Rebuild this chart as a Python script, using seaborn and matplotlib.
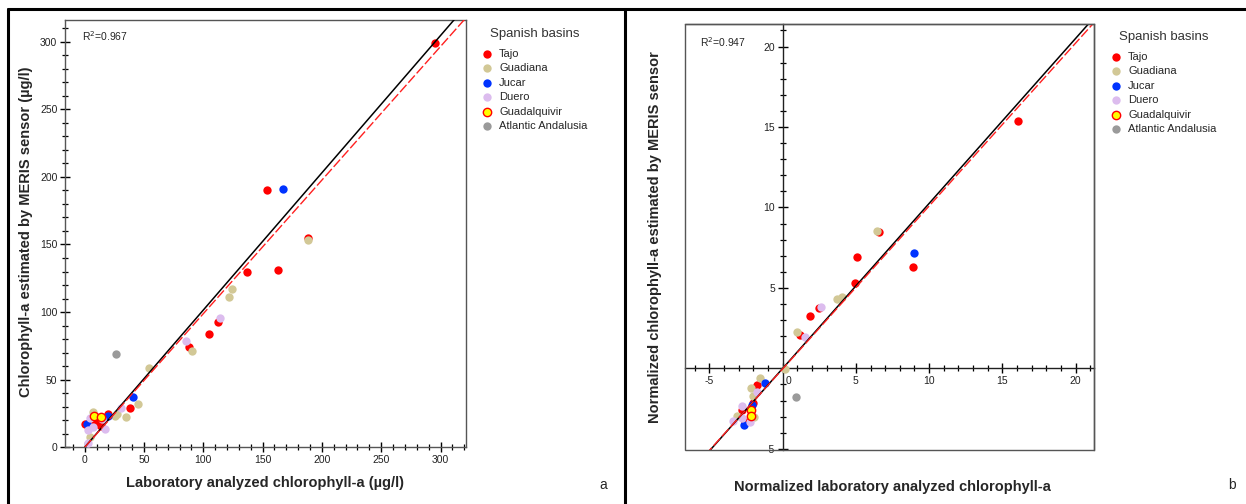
import numpy as np
import pandas as pd
import matplotlib
matplotlib.use("Agg")
import matplotlib.pyplot as plt
import matplotlib.transforms as mtransforms
from matplotlib.lines import Line2D
from matplotlib.ticker import MultipleLocator
from matplotlib import font_manager
import seaborn as sns

sns.set_style("white")

# pick a narrow sans if one is there, the labels in the original are condensed
names = {f.name for f in font_manager.fontManager.ttflist}
NARROW = next((n for n in ["Liberation Sans Narrow", "DejaVu Sans Condensed"] if n in names),
              "Liberation Sans")
plt.rcParams["font.family"] = ["Liberation Sans", "DejaVu Sans"]
plt.rcParams["axes.unicode_minus"] = False

basins = ["Tajo", "Guadiana", "Jucar", "Duero", "Guadalquivir", "Atlantic Andalusia"]
face = {"Tajo": "#ff0000", "Guadiana": "#d2c896", "Jucar": "#0033ff",
        "Duero": "#dcbcee", "Guadalquivir": "#ffff00", "Atlantic Andalusia": "#9a9a9a"}
edge = {"Guadalquivir": "#ff0000"}

# panel a - absolute values (ug/l)
tajo_a_x = [295, 153.5, 188, 163.2, 137, 105, 112.4, 88, 38.2, 20, 0.3, 8.7, 11, 13.5, 10]
tajo_a_y = [299, 190, 155, 131.4, 129.6, 83.6, 92.4, 74.4, 28.8, 24.6, 17, 18.7, 17, 16, 18]
guadiana_a_x = [188.5, 124.2, 122, 90.2, 54.5, 45.2, 34.6, 27, 25.5, 7.3, 4.5]
guadiana_a_y = [153.3, 116.8, 111, 71.5, 58.4, 32, 22.4, 24.4, 23.4, 26.3, 7.8]
jucar_a_x = [167.5, 40.4, 19.4, 1.7]
jucar_a_y = [191.3, 37.2, 23.4, 17.2]
duero_a_x = [85.4, 114, 30.3, 4.5, 3, 17, 14.3, 2.5, 7.3]
duero_a_y = [78.6, 95.4, 28.8, 21.4, 12.8, 13.3, 21, 3.4, 15.2]
guadalquivir_a_x = [7.6, 14]
guadalquivir_a_y = [23, 22.6]
atlantic_a_x = [26.4]
atlantic_a_y = [68.8]

# panel b - normalized values
tajo_b_x = [16.07, 5.05, 4.92, 8.88, 1.86, 2.46, 1.18, 6.6, -1.78, -2.0, -2.55, -2.8]
tajo_b_y = [15.37, 6.93, 5.28, 6.31, 3.25, 3.73, 2.1, 8.5, -1.04, -2.17, -3.35, -2.59]
guadiana_b_x = [6.46, 0.96, 3.69, 4.03, 0.16, -1.55, -2.17, -2.0, -1.94, -3.14]
guadiana_b_y = [8.55, 2.27, 4.3, 4.45, -0.06, -0.62, -1.24, -1.7, -3.0, -2.96]
jucar_b_x = [8.97, -1.21, -2.12, -2.62]
jucar_b_y = [7.18, -0.89, -2.28, -3.5]
duero_b_x = [2.62, 1.52, -2.8, -3.37, -2.8, -2.23, -1.78]
duero_b_y = [3.83, 1.96, -2.34, -3.25, -3.1, -3.31, -1.45]
guadalquivir_b_x = [-2.19, -2.19]
guadalquivir_b_y = [-2.59, -2.96]
atlantic_b_x = [0.91]
atlantic_b_y = [-1.76]

# fitted lines: (slope, intercept) for black solid and red dashed
fit_a = [(1.015, 0.0), (0.988, 0.0)]
fit_b = [(1.025, 0.0), (1.012, -0.03)]
r2_a = "0.967"
r2_b = "0.947"


def to_frame(parts):
    rows = []
    for name, (xs, ys) in zip(basins, parts):
        rows += [{"basin": name, "x": x, "y": y} for x, y in zip(xs, ys)]
    return pd.DataFrame(rows)


df_a = to_frame([(tajo_a_x, tajo_a_y), (guadiana_a_x, guadiana_a_y), (jucar_a_x, jucar_a_y),
                 (duero_a_x, duero_a_y), (guadalquivir_a_x, guadalquivir_a_y),
                 (atlantic_a_x, atlantic_a_y)])
df_b = to_frame([(tajo_b_x, tajo_b_y), (guadiana_b_x, guadiana_b_y), (jucar_b_x, jucar_b_y),
                 (duero_b_x, duero_b_y), (guadalquivir_b_x, guadalquivir_b_y),
                 (atlantic_b_x, atlantic_b_y)])

W, H = 1246, 504
fig = plt.figure(figsize=(W / 100, H / 100), dpi=100)


def px_axes(x0, y0, x1, y1):
    return fig.add_axes([x0 / W, 1 - y1 / H, (x1 - x0) / W, (y1 - y0) / H])


ax_a = px_axes(65, 20, 466, 447.3)
ax_b = px_axes(685, 24, 1094, 450)


def scatter(ax, df):
    for b in basins:
        sub = df[df.basin == b]
        sns.scatterplot(data=sub, x="x", y="y", ax=ax, color=face[b],
                        edgecolor=edge.get(b, face[b]), linewidth=1.0 if b in edge else 0,
                        s=36, label=b, zorder=3 if b != "Guadalquivir" else 4)


def fits(ax, coefs, x0, x1):
    xx = np.array([x0, x1])
    (s1, c1), (s2, c2) = coefs
    ax.plot(xx, s1 * xx + c1, color="black", lw=1.1, zorder=5)
    ax.plot(xx, s2 * xx + c2, color="#ff2020", lw=1.0, dashes=(7, 2), zorder=5)


def style_ticks(ax):
    ax.tick_params(which="both", bottom=True, left=True, top=False, right=False)
    ax.tick_params(which="major", direction="inout", length=7, width=1.0, color="black",
                   labelsize=7.5, pad=2, labelcolor="#222222")
    ax.tick_params(which="minor", direction="inout", length=4, width=0.9, color="black")
    for sp in ax.spines.values():
        sp.set_color("#555555")
        sp.set_linewidth(1.0)


def legend(ax, x, y):
    leg = ax.legend(loc="upper left", bbox_to_anchor=(x / W, 1 - y / H),
                    bbox_transform=fig.transFigure, frameon=False, title="Spanish basins",
                    prop={"family": NARROW, "size": 8}, handletextpad=0.6,
                    labelspacing=0.4, handlelength=1.0, borderaxespad=0, markerscale=1.0)
    leg.get_title().set_fontfamily(NARROW)
    leg.get_title().set_fontsize(9.5)
    leg.get_title().set_color("#333333")
    leg._legend_box.sep = 6


# ---- panel a
scatter(ax_a, df_a)
fits(ax_a, fit_a, 0, 330)
ax_a.set_xlim(-16.6, 321.5)
ax_a.set_ylim(0, 316)
ax_a.xaxis.set_major_locator(MultipleLocator(50))
ax_a.xaxis.set_minor_locator(MultipleLocator(10))
ax_a.yaxis.set_major_locator(MultipleLocator(50))
ax_a.yaxis.set_minor_locator(MultipleLocator(10))
style_ticks(ax_a)
ax_a.set_xlabel("Laboratory analyzed chlorophyll-a (µg/l)", fontsize=10.5,
                fontweight="bold", family=NARROW)
ax_a.set_ylabel("Chlorophyll-a estimated by MERIS sensor (µg/l)", fontsize=10.5,
                fontweight="bold", family=NARROW)
ax_a.xaxis.set_label_coords(0.5, -0.066)
ax_a.yaxis.set_label_coords(-0.08, 0.504)
ax_a.text(17 / 401, 1 - 16 / 427.3, "R$^2$=" + r2_a, transform=ax_a.transAxes,
          fontsize=7.5, va="center", ha="left")
legend(ax_a, 477, 24)

# ---- panel b
scatter(ax_b, df_b)
fits(ax_b, fit_b, -7, 22)
ax_b.set_xlim(-6.67, 21.26)
ax_b.set_ylim(-5.07, 21.4)
ax_b.set_xticks([-5, 0, 5, 10, 15, 20])
ax_b.set_yticks([-5, 5, 10, 15, 20])
ax_b.xaxis.set_minor_locator(MultipleLocator(1))
ax_b.yaxis.set_minor_locator(MultipleLocator(1))
ax_b.spines["left"].set_position(("data", 0))
ax_b.spines["bottom"].set_position(("data", 0))
style_ticks(ax_b)
ax_b.spines["left"].set_color("#202020")
ax_b.spines["bottom"].set_color("#202020")
ax_b.add_patch(plt.Rectangle((0, 0), 1, 1, transform=ax_b.transAxes, fill=False,
                             edgecolor="#555555", lw=1.0, zorder=6, clip_on=False))
# the zero label sits a little right of the axis
lbl0 = ax_b.get_xticklabels()[1]
lbl0.set_transform(lbl0.get_transform() +
                   mtransforms.ScaledTranslation(6 / 100, 0, fig.dpi_scale_trans))
ax_b.set_xlabel("Normalized laboratory analyzed chlorophyll-a", fontsize=10.5,
                fontweight="bold", family=NARROW)
ax_b.set_ylabel("Normalized chlorophyll-a estimated by MERIS sensor", fontsize=10.5,
                fontweight="bold", family=NARROW)
ax_b.xaxis.set_label_coords(0.506, -0.07)
ax_b.yaxis.set_label_coords(-0.057, 0.5)
ax_b.text(15 / 409, 1 - 18 / 426, "R$^2$=" + r2_b, transform=ax_b.transAxes,
          fontsize=7.5, va="center", ha="left")
legend(ax_b, 1106, 27)

# panel letters and the outer frame
fig.text(603 / W, 1 - 485 / H, "a", fontsize=10, ha="center", va="center")
fig.text(1232 / W, 1 - 485 / H, "b", fontsize=10, ha="center", va="center")
for xs, ys in [((8, W), (8.5, 8.5)), ((8, 8), (8.5, H)), ((625, 625), (8.5, H))]:
    fig.add_artist(Line2D([x / W for x in xs], [1 - y / H for y in ys],
                          transform=fig.transFigure, color="black", lw=2.2))

fig.savefig("out.png", dpi=100)
